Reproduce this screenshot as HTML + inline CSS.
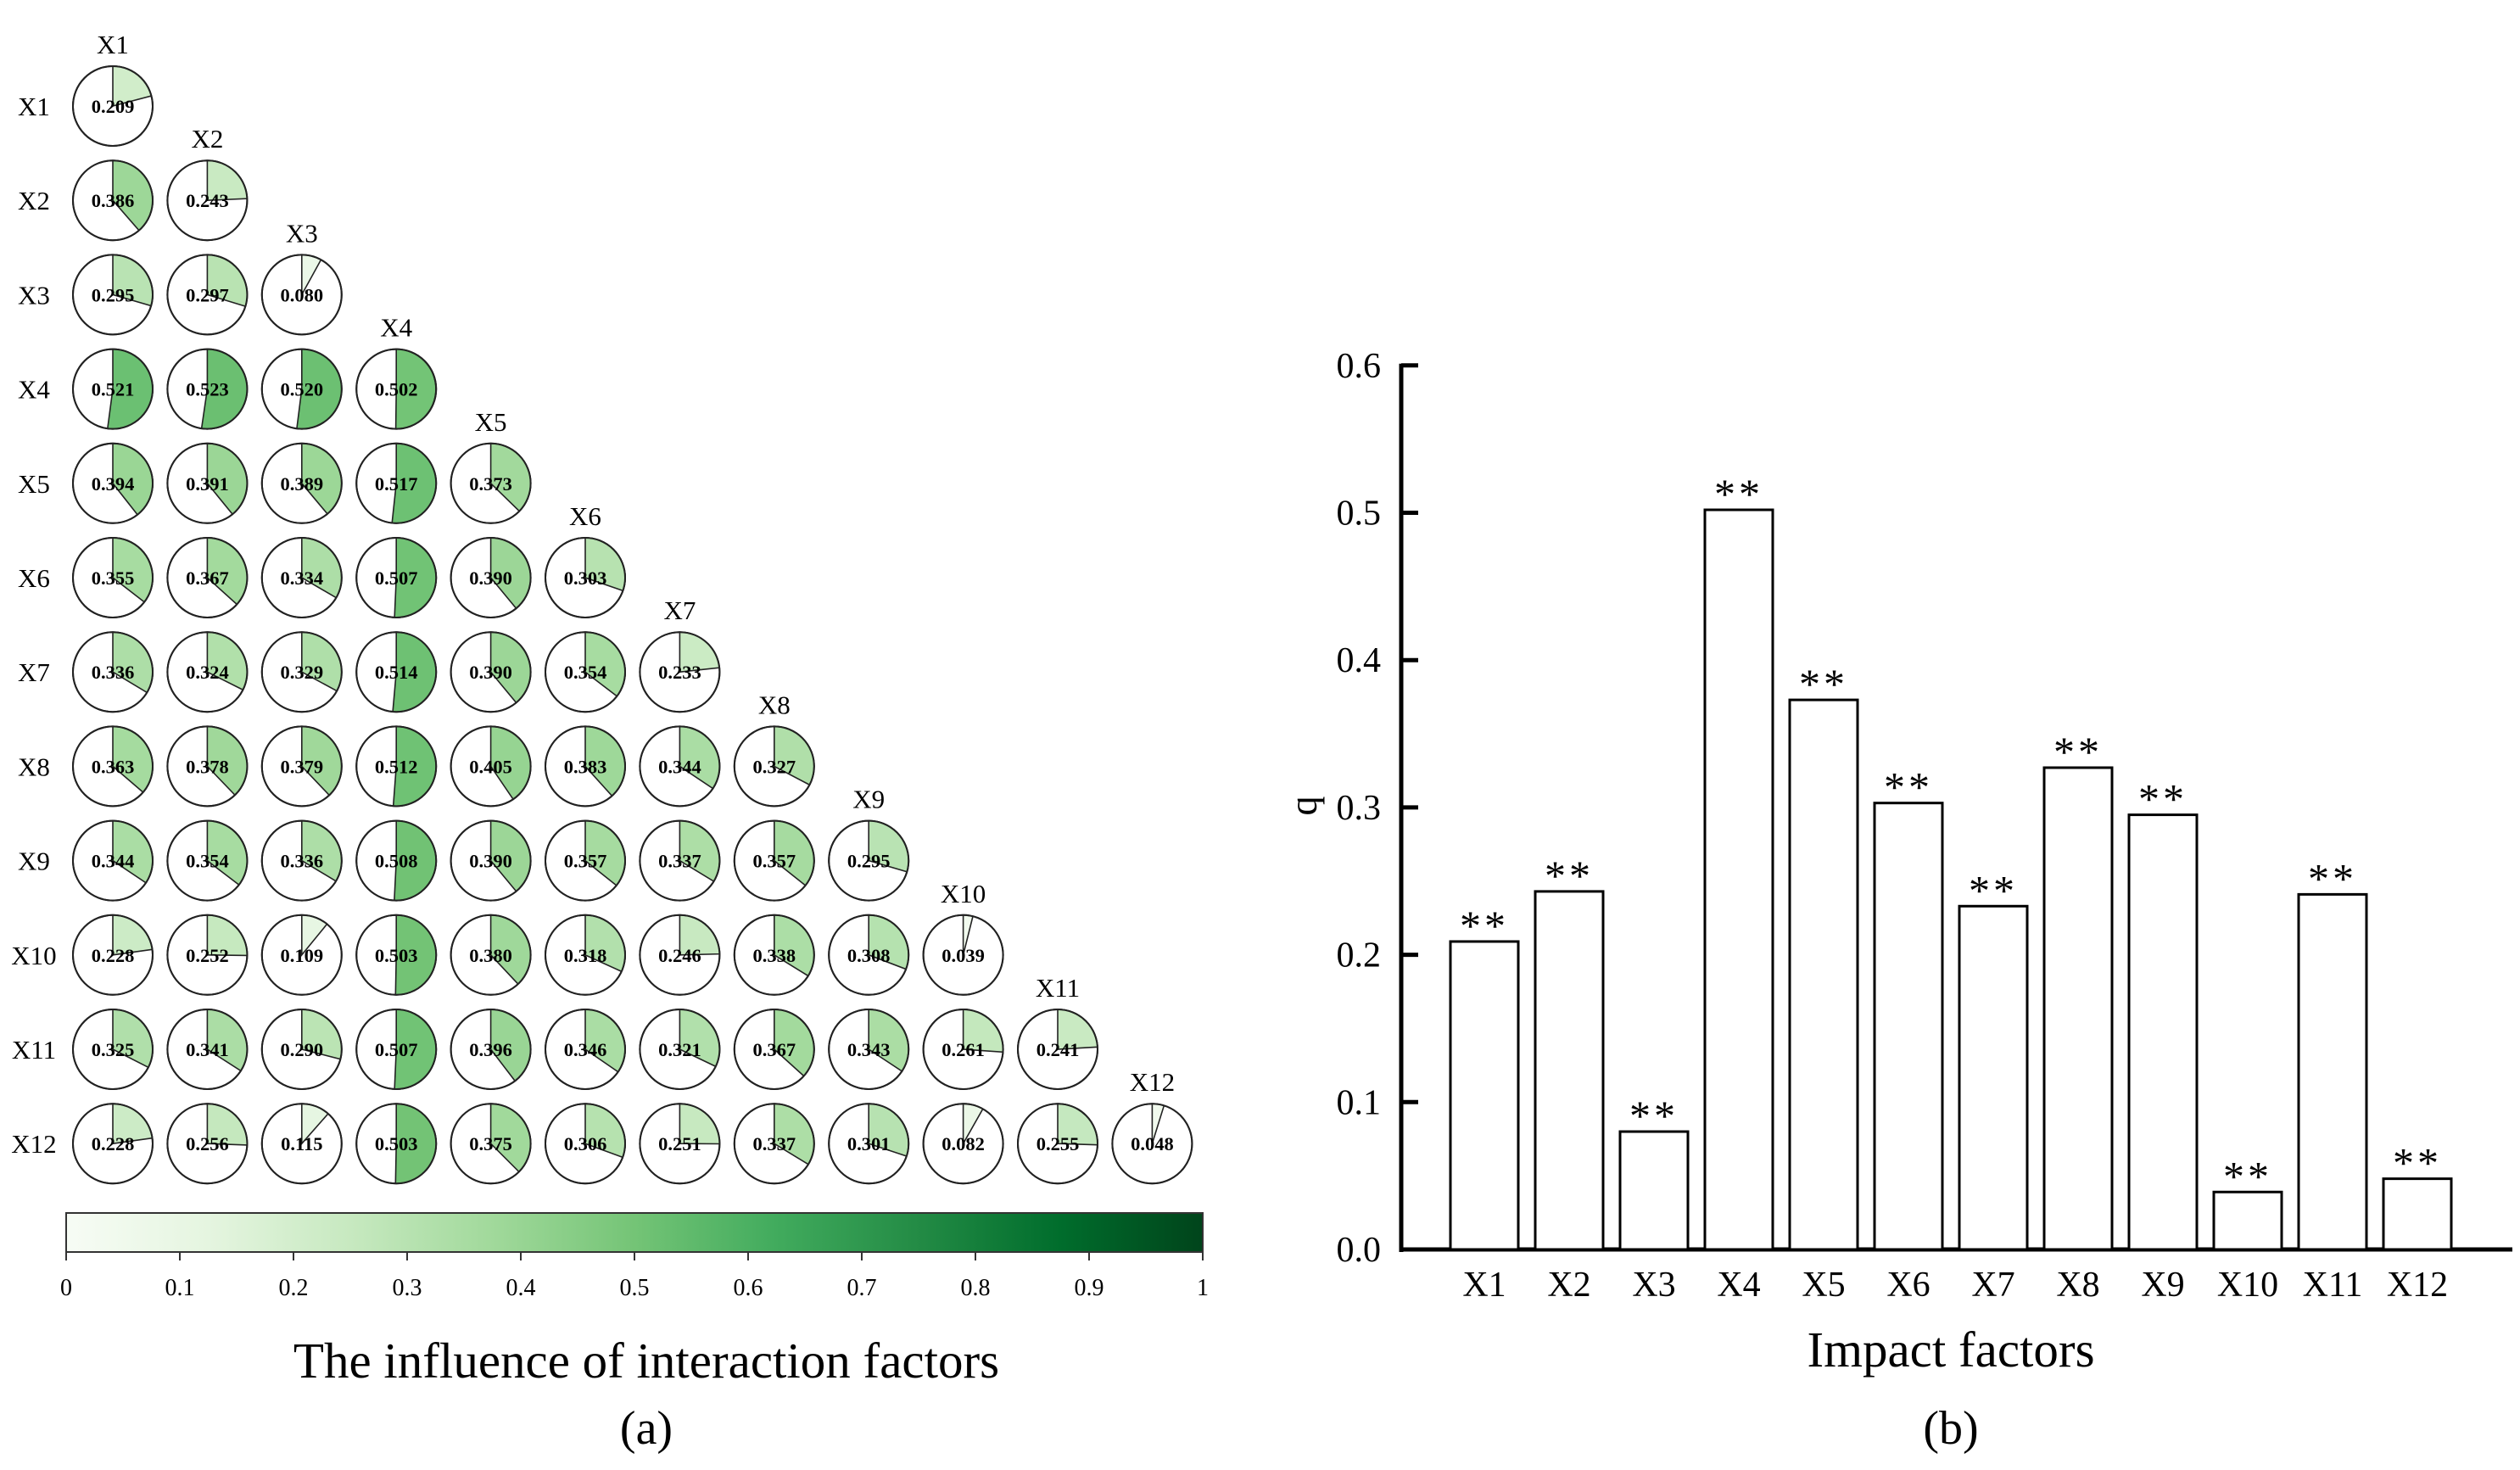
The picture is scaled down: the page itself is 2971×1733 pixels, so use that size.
<!DOCTYPE html>
<html><head><meta charset="utf-8"><style>
html,body{margin:0;padding:0;background:#fff}
svg{display:block;font-family:"Liberation Serif",serif}
</style></head><body>
<svg id="fig" width="2971" height="1733" viewBox="0 0 2971 1733" xmlns="http://www.w3.org/2000/svg">
<g id="pa"></g>
<g id="cb"></g>
<text x="762" y="1624" font-size="59" text-anchor="middle">The influence of interaction factors</text>
<text x="762" y="1702" font-size="56" text-anchor="middle">(a)</text>
<g id="pb"></g>
<text x="2300" y="1611" font-size="59" text-anchor="middle">Impact factors</text>
<text x="2300" y="1702" font-size="56" text-anchor="middle">(b)</text>
<text x="1552" y="950" font-size="46" text-anchor="middle" transform="rotate(-90 1552 950)">q</text>
</svg>
<script>
const factors = ["X1","X2","X3","X4","X5","X6","X7","X8","X9","X10","X11","X12"];
const interactionRows = [
[0.209],
[0.386,0.243],
[0.295,0.297,0.080],
[0.521,0.523,0.520,0.502],
[0.394,0.391,0.389,0.517,0.373],
[0.355,0.367,0.334,0.507,0.390,0.303],
[0.336,0.324,0.329,0.514,0.390,0.354,0.233],
[0.363,0.378,0.379,0.512,0.405,0.383,0.344,0.327],
[0.344,0.354,0.336,0.508,0.390,0.357,0.337,0.357,0.295],
[0.228,0.252,0.109,0.503,0.380,0.318,0.246,0.338,0.308,0.039],
[0.325,0.341,0.290,0.507,0.396,0.346,0.321,0.367,0.343,0.261,0.241],
[0.228,0.256,0.115,0.503,0.375,0.306,0.251,0.337,0.301,0.082,0.255,0.048]
];
const qValues = [0.209,0.243,0.080,0.502,0.373,0.303,0.233,0.327,0.295,0.039,0.241,0.048];
const qTicks = [0.0,0.1,0.2,0.3,0.4,0.5,0.6];
const cbTicks = [0,0.1,0.2,0.3,0.4,0.5,0.6,0.7,0.8,0.9,1];
const greens = ["#f7fcf5","#e5f5e0","#c7e9c0","#a1d99b","#74c476","#41ab5d","#238b45","#006d2c","#00441b"];

const NS="http://www.w3.org/2000/svg";
function mk(tag,attrs,parent,txt){const e=document.createElementNS(NS,tag);for(const k in attrs)e.setAttribute(k,attrs[k]);if(txt!==undefined)e.textContent=txt;parent.appendChild(e);return e;}
function hex(h){return [1,3,5].map(i=>parseInt(h.substr(i,2),16));}
function cmap(v){v=Math.max(0,Math.min(1,v));const t=v*8,i=Math.min(7,Math.floor(t)),f=t-i;const a=hex(greens[i]),b=hex(greens[i+1]);return "rgb("+a.map((c,k)=>Math.round(c+(b[k]-c)*f)).join(",")+")";}

// panel a
const pa=document.getElementById('pa');
const cx=i=>133+111.4*i, cy=j=>125+111.2*j, R=47;
factors.forEach((f,j)=>{
  const rl=mk('text',{x:40,y:cy(j)+11,'font-size':31,'text-anchor':'middle'},pa,f);
  
  
  const cl=mk('text',{x:cx(j),y:cy(j)-62,'font-size':31,'text-anchor':'middle'},pa,f);
  
  
});
interactionRows.forEach((row,j)=>{
  row.forEach((v,i)=>{
    const g=mk('g',{},pa);
    
    
    const x=cx(i),y=cy(j);
    mk('circle',{cx:x,cy:y,r:R,fill:'#fff',stroke:'#222','stroke-width':2},g);
    const a=v*2*Math.PI, ex=x+R*Math.sin(a), ey=y-R*Math.cos(a);
    mk('path',{d:`M${x},${y} L${x},${y-R} A${R},${R} 0 ${v>0.5?1:0} 1 ${ex.toFixed(2)},${ey.toFixed(2)} Z`,fill:cmap(v),stroke:'#222','stroke-width':1.6},g);
    mk('circle',{cx:x,cy:y,r:R,fill:'none',stroke:'#222','stroke-width':2},g);
    mk('text',{x:x,y:y+8,'font-size':22.5,'font-weight':'bold','text-anchor':'middle'},g,v.toFixed(3));
  });
});

// colorbar
const cb=document.getElementById('cb');
const cbx0=78,cbx1=1418,cby0=1430,cby1=1476;
const defs=mk('defs',{},cb);
const lg=mk('linearGradient',{id:'gr',x1:0,x2:1,y1:0,y2:0},defs);
greens.forEach((c,i)=>mk('stop',{offset:(i/8),'stop-color':c},lg));
mk('rect',{x:cbx0,y:cby0,width:cbx1-cbx0,height:cby1-cby0,fill:'url(#gr)',stroke:'#333','stroke-width':2},cb);
const cbX=v=>cbx0+(cbx1-cbx0)*v;
cbTicks.forEach(t=>{
  mk('line',{x1:cbX(t),x2:cbX(t),y1:cby1,y2:cby1+10,stroke:'#333','stroke-width':2},cb);
  const tl=mk('text',{x:cbX(t),y:1527,'font-size':28,'text-anchor':'middle'},cb,String(t));
  
  
});

// panel b
const pb=document.getElementById('pb');
const y0=1473, unit=1737, axX=1652, axEnd=2962;
const yS=v=>y0-v*unit;
const bx=i=>1750+100*i, bw=80;
mk('line',{x1:axX,x2:axX,y1:yS(0.6)-2,y2:y0+3,stroke:'#000','stroke-width':5},pb);
mk('line',{x1:axX-2,x2:axEnd,y1:y0,y2:y0,stroke:'#000','stroke-width':5},pb);
qTicks.forEach(t=>{
  mk('line',{x1:axX,x2:axX+20,y1:yS(t),y2:yS(t),stroke:'#000','stroke-width':5},pb);
  const tl=mk('text',{x:axX-24,y:yS(t)+14,'font-size':42,'text-anchor':'end'},pb,t.toFixed(1));
  
  
});
qValues.forEach((v,i)=>{
  const r=mk('rect',{x:bx(i)-bw/2,y:yS(v),width:bw,height:y0-yS(v),fill:'#fff',stroke:'#000','stroke-width':3},pb);
  
  
  const s=mk('text',{x:bx(i),y:yS(v)-2,'font-size':50,'text-anchor':'middle','letter-spacing':4},pb,'**');
  
  
  const xl=mk('text',{x:bx(i),y:1528,'font-size':42,'text-anchor':'middle'},pb,factors[i]);
  
  
});
</script>
</body></html>
